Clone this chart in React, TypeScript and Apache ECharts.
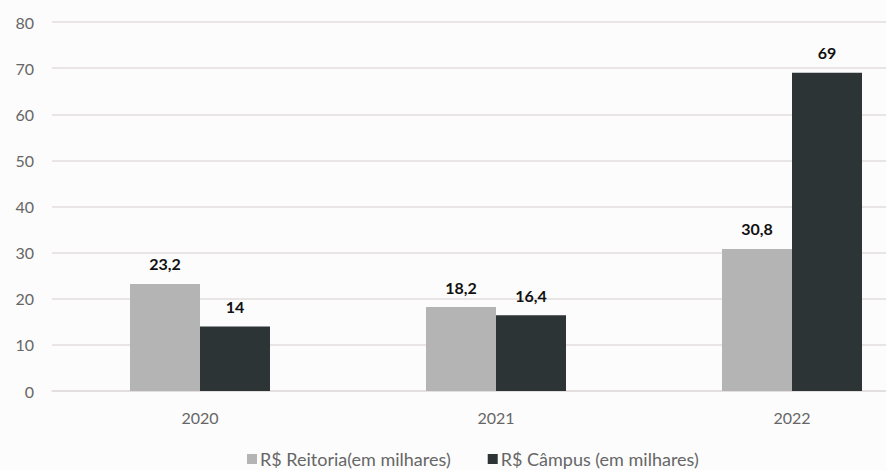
import React, { useEffect, useRef } from "react";
import * as echarts from "echarts";

const categories = ["2020", "2021", "2022"];
const reitoria = [23.2, 18.2, 30.8];
const campus = [14, 16.4, 69];
const seriesNames = ["R$ Reitoria(em milhares)", "R$ Câmpus (em milhares)"];
const yTicks = { min: 0, max: 80, interval: 10 };

const fmt = (v: number) => String(v).replace(".", ",");

export default function App() {
  const ref = useRef<HTMLDivElement>(null);
  useEffect(() => {
    document.body.style.margin = "0";
    const chart = echarts.init(ref.current!, null, { renderer: "svg" });
    const font = "Lato, 'Noto Sans', sans-serif";
    const labelStyle = {
      show: true,
      position: "top" as const,
      distance: 12,
      color: "#111",
      fontWeight: "bold" as const,
      fontSize: 16,
      fontFamily: font,
      formatter: (p: any) => fmt(p.value),
    };
    chart.setOption({
      animation: false,
      backgroundColor: "#fcfcfc",
      grid: { left: 52, top: 22, right: 0, height: 369 },
      legend: {
        left: 247,
        top: 450,
        padding: 0,
        itemWidth: 10,
        itemHeight: 10,
        itemGap: 37,
        icon: "rect",
        textStyle: { color: "#666", fontSize: 18, fontFamily: font, padding: [0, 0, 0, -2] },
        data: seriesNames,
      },
      xAxis: {
        type: "category",
        data: categories,
        axisLine: { lineStyle: { color: "#e0dcdc", width: 1.5 } },
        axisTick: { show: false },
        axisLabel: { color: "#666", fontSize: 16, margin: 18, fontFamily: font },
      },
      yAxis: {
        type: "value",
        ...yTicks,
        axisLine: { show: false },
        axisTick: { show: false },
        splitLine: { lineStyle: { color: "#e3dede", width: 1.5 } },
        axisLabel: { color: "#666", fontSize: 16, margin: 18, fontFamily: font },
      },
      series: [
        {
          name: seriesNames[0],
          type: "bar",
          data: reitoria,
          barWidth: 70,
          barGap: "0%",
          itemStyle: { color: "#b4b4b4" },
          label: labelStyle,
        },
        {
          name: seriesNames[1],
          type: "bar",
          data: campus,
          barWidth: 70,
          itemStyle: { color: "#2c3436" },
          label: labelStyle,
        },
      ],
    });
    return () => chart.dispose();
  }, []);
  return (
    <div style={{ width: 886, height: 470, overflow: "hidden", position: "relative" }}>
      <div ref={ref} style={{ width: 940, height: 470 }} />
    </div>
  );
}
